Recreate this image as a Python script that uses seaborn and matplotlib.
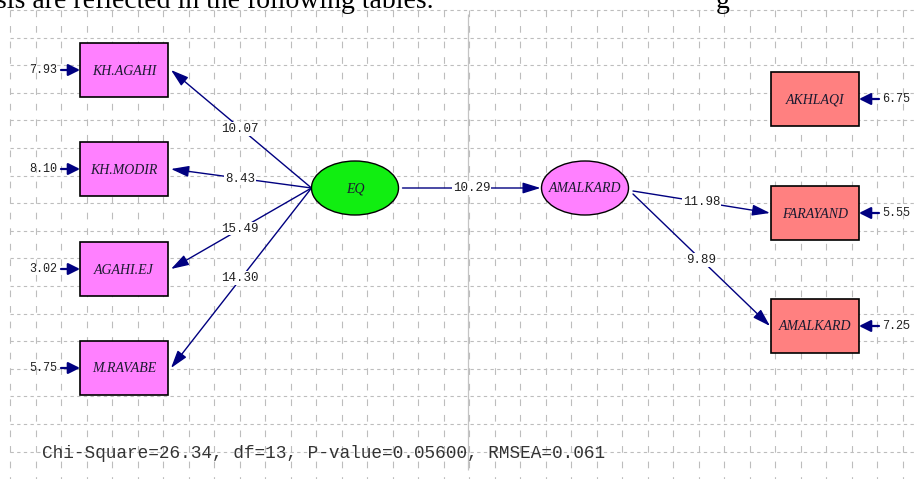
import matplotlib
matplotlib.use("Agg")
import matplotlib.pyplot as plt
from matplotlib.patches import Rectangle, Ellipse
import numpy as np
import seaborn as sns

# --- model values (LISREL t-values) ---
left_items = ["KH.AGAHI", "KH.MODIR", "AGAHI.EJ", "M.RAVABE"]
left_tvalues = [10.07, 8.43, 15.49, 14.30]
left_errors = [7.93, 8.10, 3.02, 5.75]

right_items = ["AKHLAQI", "FARAYAND", "AMALKARD"]
right_tvalues = [None, 11.98, 9.89]
right_errors = [6.75, 5.55, 7.25]

latent_names = ["EQ", "AMALKARD"]
structural_tvalue = 10.29

chi_square = 26.34
dof = 13
p_value = 0.05600
rmsea = 0.061

# --- layout (pixel space, y down) ---
W, H = 917, 479
left_box_x = 80
left_box_y = [43, 142, 242, 341]
right_box_x = 771
right_box_y = [72, 186, 299]
box_w, box_h = 88, 54
eq_center = (355, 188)
amal_center = (585, 188)
ell_w, ell_h = 87, 54

LINE = "#000080"
MONO = "Liberation Mono"
SERIF = "Liberation Serif"

sns.set_theme(style="white")
plt.rcParams["font.family"] = ["DejaVu Sans"]

fig = plt.figure(figsize=(W / 100, H / 100), dpi=100)
ax = fig.add_axes([0, 0, 1, 1])
ax.set_xlim(0, W)
ax.set_ylim(H, 0)
ax.axis("off")

# background grid like the LISREL window
gx = 10 + 25.5 * np.arange(36)
gy = 10 + 27.6 * np.arange(17)
ax.vlines(gx, 10, H, colors="#bdbdbd", linewidth=0.8,
          linestyles=(0, (6, 8)), zorder=0)
ax.hlines(gy, 10, W, colors="#bdbdbd", linewidth=0.8,
          linestyles=(0, (3, 3)), zorder=0)
ax.vlines([468], 14, 470, colors="#c4c4c4", linewidth=0.9, zorder=0)

# cropped line of the surrounding document
ax.text(-4, 8, "sis are reflected in the following tables.", family=SERIF,
        fontsize=20, ha="left", va="baseline", color="black")
ax.text(716, 8, "g", family=SERIF, fontsize=20, ha="left",
        va="baseline", color="black")


def arrow(p0, p1, lw=1.0, hl=0.9, hw=0.28, scale=12):
    ax.annotate("", xy=p1, xytext=p0,
                arrowprops=dict(arrowstyle=f"-|>,head_length={hl},head_width={hw}",
                                color=LINE, lw=lw, shrinkA=0, shrinkB=0,
                                mutation_scale=scale), zorder=2)


def tlabel(x, y, val):
    ax.text(x, y, f"{val:.2f}", family=MONO, fontsize=9,
            ha="center", va="center", color="#202020", zorder=4,
            bbox=dict(fc="white", ec="none", pad=0.6))


def box(x, y, name, fc):
    ax.add_patch(Rectangle((x, y), box_w, box_h, fc=fc, ec="black", lw=1.2, zorder=3))
    ax.text(x + box_w / 2, y + box_h / 2 + 1, name, family=SERIF, style="italic",
            fontsize=10, ha="center", va="center", color="#1a1a30", zorder=4)


def ellipse(c, name, fc):
    ax.add_patch(Ellipse(c, ell_w, ell_h, fc=fc, ec="black", lw=1.0, zorder=3))
    ax.text(c[0], c[1] + 1, name, family=SERIF, style="italic", fontsize=10,
            ha="center", va="center", color="#1a1a30", zorder=4)


# left indicators of EQ
eq_left = (eq_center[0] - ell_w / 2, eq_center[1])
for name, t, err, by in zip(left_items, left_tvalues, left_errors, left_box_y):
    box(left_box_x, by, name, "#ff80ff")
    cy = by + box_h / 2
    tip = (left_box_x + box_w + 3, cy)
    arrow(eq_left, tip)
    tlabel((eq_left[0] + tip[0]) / 2 - 1, (eq_left[1] + tip[1]) / 2, t)
    # error term
    arrow((61, cy), (left_box_x, cy), lw=1.6, hl=0.7, hw=0.35, scale=10)
    ax.text(57, cy, f"{err:.2f}", family=MONO, fontsize=8.5,
            ha="right", va="center", color="#202020")

# latent variables and structural path
ellipse(eq_center, latent_names[0], "#11ee11")
ellipse(amal_center, latent_names[1], "#ff80ff")
p0 = (eq_center[0] + ell_w / 2 + 4, eq_center[1])
p1 = (amal_center[0] - ell_w / 2 - 1, amal_center[1])
arrow(p0, p1)
tlabel((p0[0] + p1[0]) / 2, p0[1], structural_tvalue)

# right indicators of AMALKARD
starts = [None, (633, 191), (633, 194)]
for name, t, err, by, st in zip(right_items, right_tvalues, right_errors,
                                right_box_y, starts):
    box(right_box_x, by, name, "#ff8080")
    cy = by + box_h / 2
    if t is not None:
        tip = (right_box_x - 1, cy)
        arrow(st, tip)
        tlabel((st[0] + tip[0]) / 2, (st[1] + tip[1]) / 2, t)
    x_end = right_box_x + box_w
    arrow((x_end + 20, cy), (x_end, cy), lw=1.6, hl=0.7, hw=0.35, scale=10)
    ax.text(x_end + 23, cy, f"{err:.2f}", family=MONO,
            fontsize=8.5, ha="left", va="center", color="#202020")

# fit statistics
ax.text(42, 453,
        f"Chi-Square={chi_square:.2f}, df={dof}, P-value={p_value:.5f}, RMSEA={rmsea:.3f}",
        family=MONO, fontsize=12.8, ha="left", va="center", color="#333333",
        zorder=4)

fig.savefig("out.png", dpi=100)
